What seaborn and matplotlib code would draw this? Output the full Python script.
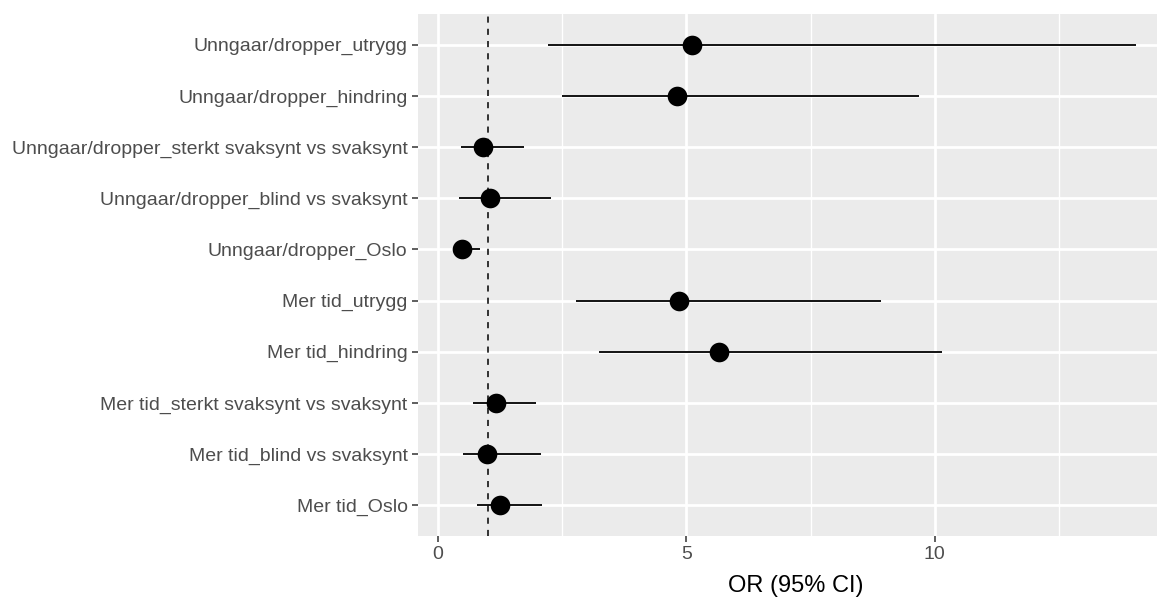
import matplotlib
matplotlib.use("Agg")
import matplotlib.pyplot as plt
import seaborn as sns
import pandas as pd
from matplotlib.ticker import MultipleLocator

labels = [
    "Unngaar/dropper_utrygg",
    "Unngaar/dropper_hindring",
    "Unngaar/dropper_sterkt svaksynt vs svaksynt",
    "Unngaar/dropper_blind vs svaksynt",
    "Unngaar/dropper_Oslo",
    "Mer tid_utrygg",
    "Mer tid_hindring",
    "Mer tid_sterkt svaksynt vs svaksynt",
    "Mer tid_blind vs svaksynt",
    "Mer tid_Oslo",
]
odds_ratio = [5.11, 4.82, 0.91, 1.05, 0.48, 4.86, 5.65, 1.17, 0.99, 1.26]
ci_lower = [2.22, 2.49, 0.47, 0.42, 0.30, 2.77, 3.25, 0.71, 0.50, 0.78]
ci_upper = [14.05, 9.69, 1.73, 2.27, 0.85, 8.91, 10.15, 1.98, 2.08, 2.10]

df = pd.DataFrame({"label": labels, "OR": odds_ratio, "lo": ci_lower, "hi": ci_upper})

sns.set_theme(style="darkgrid")
plt.rcParams["font.family"] = ["Liberation Sans", "DejaVu Sans"]

fig = plt.figure(figsize=(11.57, 5.99), dpi=100)
ax = fig.add_axes([418 / 1157, 1 - 536 / 599, 1 - 418 / 1157, (536 - 14) / 599])
ax.set_facecolor("#EBEBEB")

ax.hlines(y=df["label"], xmin=df["lo"], xmax=df["hi"], color="black", linewidth=1.3, zorder=3)
sns.scatterplot(data=df, x="OR", y="label", ax=ax, color="black", s=200,
                edgecolor="black", linewidth=0, zorder=4)
ax.axvline(1, color="black", linestyle=(0, (4, 4)), linewidth=1.1, zorder=2)

ax.set_ylim(len(labels) - 0.4, -0.6)
ax.set_xlim(-0.4, 14.47)

ax.xaxis.set_major_locator(MultipleLocator(5))
ax.xaxis.set_minor_locator(MultipleLocator(2.5))
ax.grid(which="major", color="white", linewidth=2.0)
ax.grid(which="minor", axis="x", color="white", linewidth=1.0)
ax.set_axisbelow(True)
for s in ax.spines.values():
    s.set_visible(False)

ax.tick_params(axis="both", which="major", length=4.5, width=1.1, color="#333333",
               labelcolor="#4D4D4D", labelsize=14, pad=3, bottom=True, left=True)
ax.tick_params(axis="x", which="minor", length=0)

ax.set_ylabel("")
ax.set_xlabel("OR (95% CI)", fontsize=17, color="black", labelpad=3)
ax.xaxis.set_label_coords(0.511, -0.075)

fig.savefig("out.png", dpi=100)
